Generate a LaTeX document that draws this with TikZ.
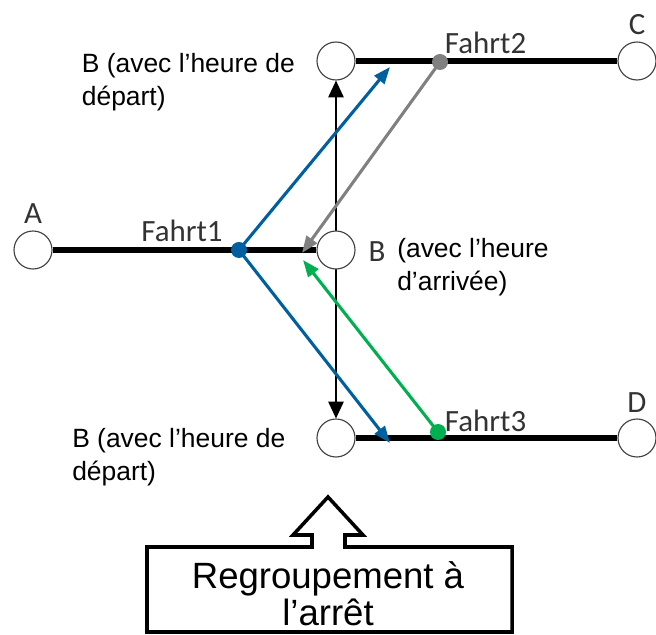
\documentclass[tikz,border=0pt]{standalone}
\usepackage{fontspec}
\setmainfont{Liberation Sans}
\newfontfamily\calibri{Carlito}
\definecolor{TripBlue}{RGB}{0, 95, 158}
\definecolor{TripGray}{RGB}{128, 128, 128}
\definecolor{TripGreen}{RGB}{0, 176, 80}
\usetikzlibrary{arrows.meta, backgrounds}

\begin{document}
\begin{tikzpicture}[
        stop/.style={circle, draw=black!75, line width=0.8pt, fill=white, minimum size=0.95cm, inner sep=0pt},
        tripdot/.style={circle, fill=#1, minimum size=0.4cm, inner sep=0pt},
        trip/.style={line width=4.6pt},
        link/.style={line width=2.2pt, -{Triangle[length=12pt, width=9pt]}},
        lbl/.style={font=\calibri\fontsize{22}{24}\selectfont, text=black!80, inner sep=0pt},
        desc/.style={font=\fontsize{18.8}{23.4}\selectfont, align=left, anchor=west, inner sep=0pt}
    ]
    \useasboundingbox (0,0) rectangle (16.4,15.85);

    \node[stop] (A) at (0.825, 9.6) {};
    \node[stop] (Barr) at (8.4, 9.6) {};
    \node[stop] (Bdep1) at (8.4, 14.325) {};
    \node[stop] (C) at (15.925, 14.325) {};
    \node[stop] (Bdep2) at (8.4, 4.9) {};
    \node[stop] (D) at (15.925, 4.9) {};

    \begin{scope}[on background layer]
        \draw[trip] (A) -- (Barr);
        \draw[trip] (Bdep1) -- (C);
        \draw[trip] (Bdep2) -- (D);
        \draw[line width=1pt, {Triangle[length=12pt, width=11pt]}-{Triangle[length=12pt, width=11pt]}] (Bdep1) -- (Bdep2);
    \end{scope}

    \node[lbl] (labA) at (0.825, 10.5) {A};
    \node[lbl] (labC) at (15.925, 15.225) {C};
    \node[lbl] (labD) at (15.925, 5.775) {D};
    \node[lbl] (f1) at (4.55, 10.075) {Fahrt1};
    \node[lbl] (f2) at (12.14, 14.79) {Fahrt2};
    \node[lbl] (f3) at (12.14, 5.325) {Fahrt3};
    \node[lbl] (labB) at (9.425, 9.55) {B};

    \node[desc] (depTop) at (2.04, 13.79) {B (avec l’heure de\\départ)};
    \node[desc] (depBot) at (1.8, 4.41) {B (avec l’heure de\\départ)};
    \node[desc] (arr) at (9.925, 9.175) {(avec l’heure\\d’arrivée)};

    \node[tripdot=TripBlue] (bdot) at (5.975, 9.6) {};
    \node[tripdot=TripGray] (gdot) at (11.0, 14.3) {};
    \node[tripdot=TripGreen] (grdot) at (10.95, 5.05) {};

    \coordinate (upTip) at (9.75, 14.175);
    \coordinate (downTip) at (9.75, 4.775);
    \coordinate (grayTip) at (7.55, 9.525);
    \coordinate (greenTip) at (7.575, 9.35);

    \draw[link, TripBlue] (bdot.center) -- (upTip);
    \draw[link, TripBlue] (bdot.center) -- (downTip);
    \draw[link, TripGray] (gdot.center) -- (grayTip);
    \draw[link, TripGreen] (grdot.center) -- (greenTip);

    \draw[line width=2.5pt] (3.675, 2.175) -- (7.8, 2.175) -- (7.8, 2.475) -- (7.325, 2.475) -- (8.2, 3.425)
        -- (9.075, 2.475) -- (8.625, 2.475) -- (8.625, 2.175) -- (12.8, 2.175) -- (12.8, 0.05) -- (3.675, 0.05) -- cycle;
    \node[font=\fontsize{26}{26.2}\selectfont, align=center, inner sep=0pt] (group) at (8.2, 1.0) {Regroupement à\\l’arrêt};
\end{tikzpicture}
\end{document}
